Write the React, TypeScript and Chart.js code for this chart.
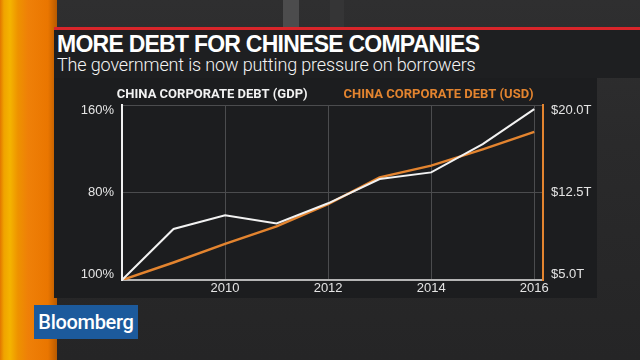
import React, { useEffect, useRef } from 'react';
import { Chart, registerables } from 'chart.js';

Chart.register(...registerables);

const titleText = 'MORE DEBT FOR CHINESE COMPANIES';
const subtitleText = 'The government is now putting pressure on borrowers';
const seriesNames = ['CHINA CORPORATE DEBT (GDP)', 'CHINA CORPORATE DEBT (USD)'];
const seriesColors = ['#f2f2f2', '#e3842f'];

const years = [2008, 2009, 2010, 2011, 2012, 2013, 2014, 2015, 2016];
const gdpDebt = [100, 117.5, 122.2, 119.4, 126.3, 134.6, 136.9, 146.6, 158.6];
const usdDebt = [5.0, 6.5, 8.1, 9.6, 11.5, 13.8, 14.8, 16.2, 17.7];

const yearTicks = [2010, 2012, 2014, 2016];
const gdpTickValues = [100, 130, 160];
const gdpTickLabels = ['100%', '80%', '160%'];
const usdTickValues = [5, 12.5, 20];
const usdTickLabels = ['$5.0T', '$12.5T', '$20.0T'];

function edgeLabel(label: string, index: number, count: number): string | string[] {
  if (index === 0) return [label, ''];
  if (index === count - 1) return ['', label];
  return label;
}

export default function App() {
  const canvasRef = useRef<HTMLCanvasElement | null>(null);

  useEffect(() => {
    const canvas = canvasRef.current;
    if (!canvas) return;
    const tickFont = { family: '"Liberation Sans", Arial, sans-serif', size: 13, lineHeight: 0.9 };
    const chart = new Chart(canvas, {
      type: 'line',
      data: {
        datasets: [
          {
            label: seriesNames[0],
            data: years.map((y, i) => ({ x: y, y: gdpDebt[i] })),
            yAxisID: 'yGdp',
            borderColor: seriesColors[0],
            borderWidth: 2,
            pointRadius: 0,
            tension: 0,
          },
          {
            label: seriesNames[1],
            data: years.map((y, i) => ({ x: y, y: usdDebt[i] })),
            yAxisID: 'yUsd',
            borderColor: seriesColors[1],
            borderWidth: 2.5,
            pointRadius: 0,
            tension: 0,
          },
        ],
      },
      options: {
        responsive: false,
        animation: false,
        devicePixelRatio: 1,
        layout: { padding: { left: 41, right: 37, top: 58.5, bottom: 60 } },
        plugins: {
          tooltip: { enabled: false },
          legend: {
            position: 'top',
            maxHeight: 46.5,
            labels: {
              boxWidth: 0,
              boxHeight: 0,
              padding: 29.5,
              font: { family: 'Roboto, "Liberation Sans", sans-serif', weight: 'bold', size: 13 },
              generateLabels: (c: any) =>
                c.data.datasets.map((d: any, i: number) => ({
                  text: d.label,
                  fillStyle: 'rgba(0,0,0,0)',
                  strokeStyle: 'rgba(0,0,0,0)',
                  lineWidth: 0,
                  fontColor: seriesColors[i],
                  datasetIndex: i,
                  hidden: false,
                })),
            },
          },
        },
        scales: {
          x: {
            type: 'linear',
            min: 2008,
            max: 2016.17,
            afterBuildTicks: (s: any) => {
              s.ticks = yearTicks.map((v) => ({ value: v }));
            },
            afterFit: (s: any) => {
              s.height = 20;
            },
            grid: { color: '#4b4c4e', lineWidth: 1, drawTicks: false },
            border: { color: '#b5b5b5', width: 2 },
            ticks: {
              color: '#e4e4e4',
              font: { family: '"Liberation Sans", Arial, sans-serif', size: 13 },
              padding: 1,
              maxRotation: 0,
              callback: (v: any) => String(v),
            },
          },
          yGdp: {
            type: 'linear',
            position: 'left',
            min: 100,
            max: 160,
            afterBuildTicks: (s: any) => {
              s.ticks = gdpTickValues.map((v) => ({ value: v }));
            },
            afterFit: (s: any) => {
              s.width = 81;
            },
            grid: { color: '#4b4c4e', lineWidth: 1, drawTicks: false },
            border: { color: '#f0f0f0', width: 2 },
            ticks: {
              color: '#e4e4e4',
              font: tickFont,
              padding: 8,
              callback: (v: any, i: number, t: any[]) =>
                edgeLabel(gdpTickLabels[gdpTickValues.indexOf(v)], i, t.length),
            },
          },
          yUsd: {
            type: 'linear',
            position: 'right',
            min: 5,
            max: 20,
            afterBuildTicks: (s: any) => {
              s.ticks = usdTickValues.map((v) => ({ value: v }));
            },
            afterFit: (s: any) => {
              s.width = 60;
            },
            grid: { display: false, drawTicks: false },
            border: { color: '#e3842f', width: 2 },
            ticks: {
              color: '#e4e4e4',
              font: tickFont,
              padding: 8,
              callback: (v: any, i: number, t: any[]) =>
                edgeLabel(usdTickLabels[usdTickValues.indexOf(v)], i, t.length),
            },
          },
        },
      },
    } as any);
    return () => chart.destroy();
  }, []);

  const abs = (s: React.CSSProperties): React.CSSProperties => ({ position: 'absolute', ...s });

  return (
    <div
      style={{
        position: 'fixed',
        left: 0,
        top: 0,
        width: 640,
        height: 360,
        overflow: 'hidden',
        background: 'linear-gradient(180deg, #2f2f30 0%, #2a2a2b 40%, #252526 100%)',
      }}
    >
      <div style={abs({ left: 283, top: 0, width: 16, height: 28, background: '#4c4c4d' })} />
      <div style={abs({ left: 330, top: 0, width: 14, height: 28, background: '#353536' })} />
      <div
        style={abs({
          left: 0,
          top: 0,
          width: 57,
          height: 360,
          background:
            'linear-gradient(90deg, #e27600 0px, #f0a400 4px, #f4b400 10px, #ee9200 18px, #ef8008 28px, #ea7600 48px, #b85a00 57px)',
        })}
      />
      <div style={abs({ left: 54, right: 0, top: 27, height: 3, background: '#d9252a' })} />
      <div style={abs({ left: 54, right: 0, top: 30, height: 48, background: '#1e1f21' })} />
      <div style={abs({ left: 54, top: 78, width: 543, height: 220, background: '#1c1d1f' })} />
      <div
        style={abs({
          left: 57,
          top: 32.5,
          lineHeight: 1,
          fontFamily: '"Liberation Sans", Arial, sans-serif',
          fontWeight: 700,
          fontSize: 23,
          letterSpacing: -0.75,
          color: '#ffffff',
          whiteSpace: 'nowrap',
        })}
      >
        {titleText}
      </div>
      <div
        style={abs({
          left: 57,
          top: 55.8,
          lineHeight: 1,
          fontFamily: 'Roboto, "Liberation Sans", sans-serif',
          fontWeight: 300,
          fontSize: 18,
          letterSpacing: -0.15,
          color: '#f4f4f4',
          whiteSpace: 'nowrap',
        })}
      >
        {subtitleText}
      </div>
      <div
        style={abs({
          left: 34,
          top: 305,
          width: 104,
          height: 34,
          background: '#1c5a9c',
          color: '#ffffff',
          fontFamily: 'Roboto, "Liberation Sans", sans-serif',
          fontWeight: 500,
          fontSize: 20,
          lineHeight: '34px',
          textAlign: 'center',
          letterSpacing: -0.3,
        })}
      >
        Bloomberg
      </div>
      <canvas ref={canvasRef} width={640} height={360} style={abs({ left: 0, top: 0, width: 640, height: 360 })} />
    </div>
  );
}
